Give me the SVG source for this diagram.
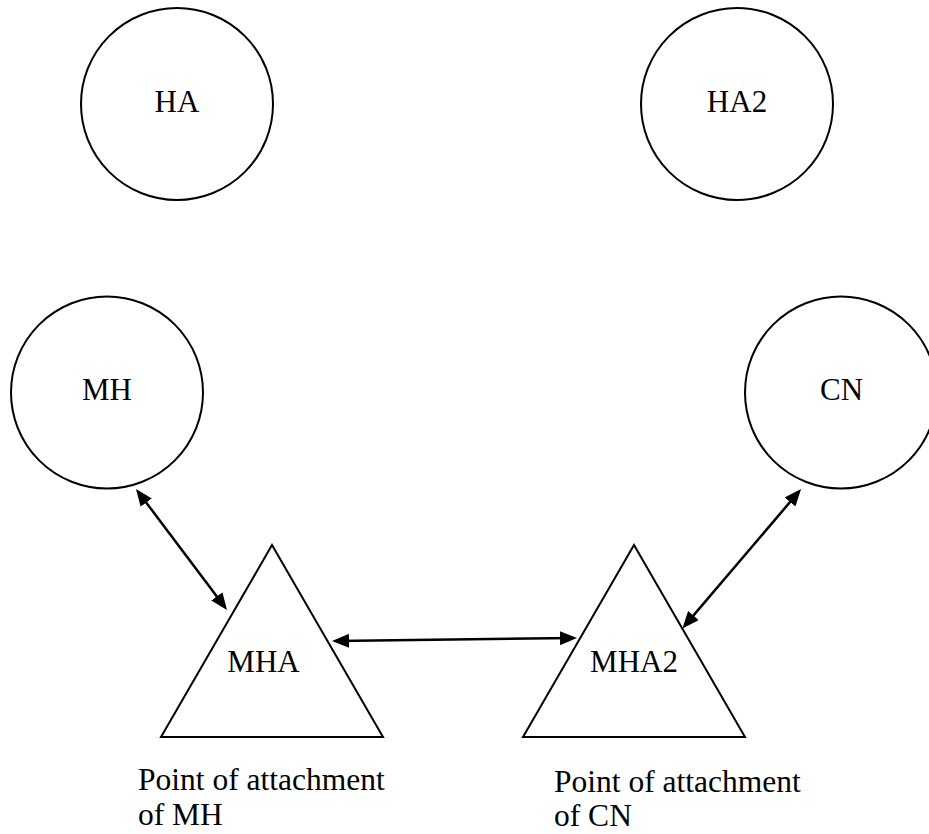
<svg xmlns="http://www.w3.org/2000/svg" width="929" height="834" viewBox="0 0 929 834">
<style>
.node{fill:#fff;stroke:#000;stroke-width:2}
.lbl{font-family:"Liberation Serif","Times New Roman",serif;font-size:31px;fill:#000;text-anchor:middle}
.cap{font-family:"Liberation Serif","Times New Roman",serif;font-size:31.5px;fill:#000}
.conn{stroke:#000;stroke-width:2.5;fill:none;marker-start:url(#ah);marker-end:url(#ah)}
</style>
<defs>
<marker id="ah" markerUnits="userSpaceOnUse" markerWidth="17" markerHeight="14" refX="13" refY="7" orient="auto-start-reverse" viewBox="0 0 17 14">
<path d="M0,0 L17,7 L0,14 z" fill="#000"/>
</marker>
</defs>
<rect width="929" height="834" fill="#fff"/>
<g id="HA"><circle class="node" cx="177" cy="104" r="96"/><text class="lbl" x="177" y="112">HA</text></g>
<g id="HA2"><circle class="node" cx="737" cy="104" r="96"/><text class="lbl" x="737" y="112">HA2</text></g>
<g id="MH"><circle class="node" cx="107" cy="392.5" r="96"/><text class="lbl" x="107" y="400">MH</text></g>
<g id="CN"><circle class="node" cx="841" cy="392.5" r="96"/><text class="lbl" x="841.5" y="400">CN</text></g>
<g id="MHA"><polygon class="node" points="272,545 161,737 383,737"/><text class="lbl" x="263.5" y="672">MHA</text></g>
<g id="MHA2"><polygon class="node" points="634,545 523,737 745,737"/><text class="lbl" x="634" y="672">MHA2</text></g>
<g id="connectors">
<line class="conn" x1="138.4" y1="492.2" x2="224.6" y2="606.8"/>
<line class="conn" x1="336" y1="641" x2="573" y2="638"/>
<line class="conn" x1="798.5" y1="492.1" x2="685" y2="625.4"/>
</g>
<g id="caption-MHA"><text class="cap" x="138" y="790">Point of attachment</text><text class="cap" x="138" y="825">of MH</text></g>
<g id="caption-MHA2"><text class="cap" x="554" y="792">Point of attachment</text><text class="cap" x="554" y="826">of CN</text></g>
</svg>
